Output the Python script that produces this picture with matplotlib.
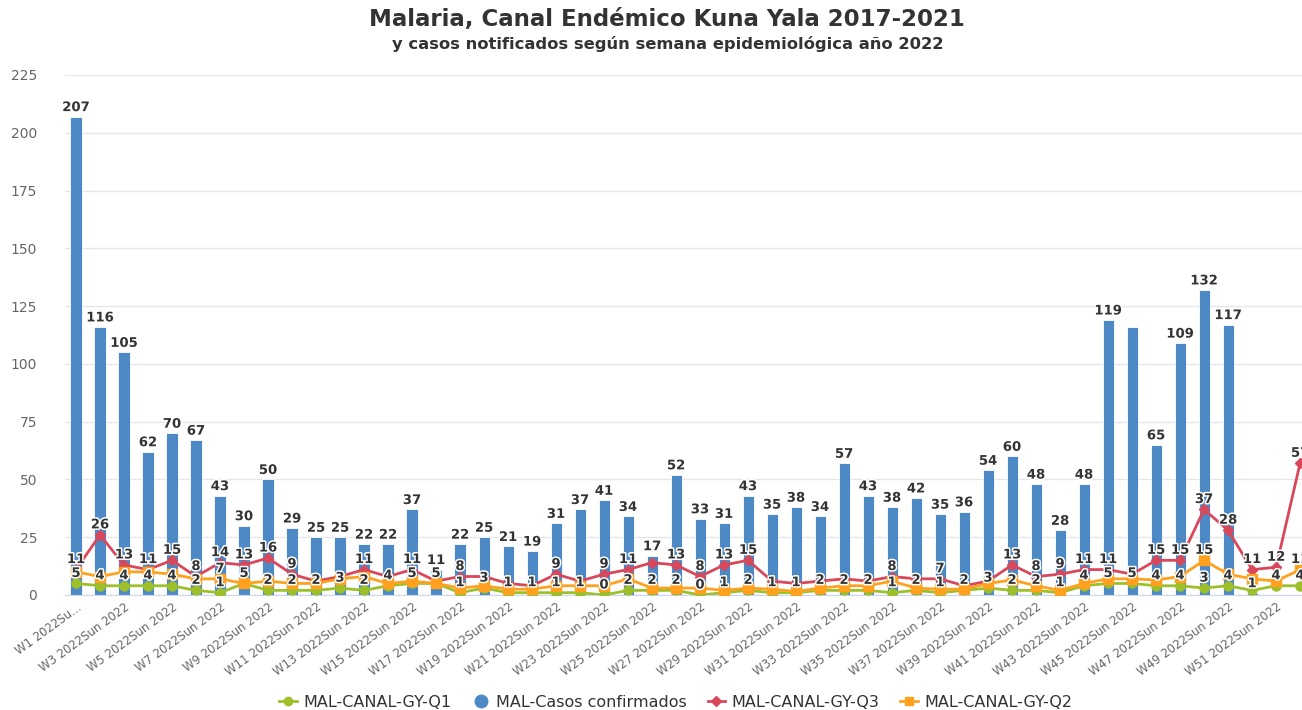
import numpy as np
import matplotlib
matplotlib.use('Agg')
import matplotlib.pyplot as plt
from matplotlib.lines import Line2D
import matplotlib.patheffects as pe

# semanas epidemiologicas 2022
semanas = ['W%d 2022Sun 2022' % n for n in range(1, 53)]

# casos confirmados (barras), sin dato en W51 y W52
casos = [207, 116, 105, 62, 70, 67, 43, 30, 50, 29,
         25, 25, 22, 22, 37, 11, 22, 25, 21, 19,
         31, 37, 41, 34, 17, 52, 33, 31, 43, 35,
         38, 34, 57, 43, 38, 42, 35, 36, 54, 60,
         48, 28, 48, 119, 116, 65, 109, 132, 117, 1,
         np.nan, np.nan]

# canal endemico 2017-2021
q1 = [5, 4, 4, 4, 4, 2, 1, 5, 2, 2,
      2, 3, 2, 4, 5, 5, 1, 3, 1, 1,
      1, 1, 0, 2, 2, 2, 0, 1, 2, 1,
      1, 2, 2, 2, 1, 2, 1, 2, 3, 2,
      2, 1, 4, 5, 5, 4, 4, 3, 4, 2,
      4, 4]
q2 = [10, 8, 10, 10, 9, 7, 7, 5, 6, 5,
      5, 7, 8, 5, 6, 5, 3, 4, 2.5, 2.5,
      4, 4, 4, 7, 3, 3, 3, 2, 3, 2.5,
      1.5, 3, 4, 4, 6, 3, 2.5, 2.5, 5, 6.5,
      4, 2, 5, 7, 7, 6.5, 8, 15, 9, 7,
      6, 11]
q3 = [11, 26, 13, 11, 15, 8, 14, 13, 16, 9,
      6, 8, 11, 8, 11, 6, 8, 8, 5, 4,
      9, 6, 9, 11, 14, 13, 8, 13, 15, 6,
      5, 6, 7, 6, 8, 7, 7, 4, 6, 13,
      8, 9, 11, 11, 9, 15, 15, 37, 28, 11,
      12, 57]

AZUL = '#4d8ac5'
ROJO = '#d9475a'
NARANJA = '#ffa11f'
VERDE = '#9dc02a'
TEXTO = '#333333'
GRIS = '#666666'


def etiqueta(ax, x, y, dy):
    t = ax.annotate('%d' % round(y), (x, y), xytext=(0, dy), textcoords='offset pixels',
                    ha='center', va='center', fontsize=9.5, fontweight='bold',
                    color=TEXTO, annotation_clip=False, zorder=10)
    t.set_path_effects([pe.withStroke(linewidth=2.2, foreground='white')])
    return t


def ocultar_solapados(fig, etiquetas, alto=12):
    # como highcharts: la etiqueta de menor rango se oculta
    fig.canvas.draw()
    r = fig.canvas.get_renderer()
    visibles = []
    for t in etiquetas:
        bb = t.get_window_extent(r)
        cx, cy, w = (bb.x0 + bb.x1) / 2, (bb.y0 + bb.y1) / 2, bb.width
        choca = False
        for x2, y2, w2 in visibles:
            if abs(cx - x2) < (w + w2) / 2 and abs(cy - y2) < alto:
                choca = True
                break
        if choca:
            t.set_visible(False)
        else:
            visibles.append((cx, cy, w))


fig = plt.figure(figsize=(13.02, 7.10), dpi=100)
ax = fig.add_axes([65 / 1302, 115 / 710, 1237 / 1302, 520 / 710])

x = np.arange(len(semanas))
ax.bar(x, casos, width=0.46, color=AZUL, edgecolor='white', linewidth=0.6, zorder=2)
ax.plot(x, q1, color=VERDE, lw=2, marker='o', ms=6.5, zorder=3)
ax.plot(x, q3, color=ROJO, lw=2, marker='D', ms=4.8, zorder=4)
ax.plot(x, q2, color=NARANJA, lw=2, marker='s', ms=6.5, zorder=5)

ax.set_xlim(-0.458, 51.08)
ax.set_ylim(0, 225)
ax.set_yticks(np.arange(0, 226, 25))
ax.grid(axis='y', color='#e6e6e6', lw=1)
ax.set_axisbelow(True)
for s in ['top', 'right', 'left']:
    ax.spines[s].set_visible(False)
ax.spines['bottom'].set_color('#ccd6eb')
ax.tick_params(axis='y', length=0, pad=20, labelsize=10, labelcolor=GRIS)

ticks = x[::2]
nombres = [semanas[i] for i in ticks]
nombres[0] = 'W1 2022Su...'
ax.set_xticks(ticks)
ax.set_xticklabels(nombres, rotation=36, ha='right', rotation_mode='anchor',
                   fontsize=8.4, color=GRIS)
ax.tick_params(axis='x', length=0, pad=4)

# etiquetas: barras primero (por altura), luego Q1, Q3, Q2
barras = []
for i, v in enumerate(casos):
    if not np.isnan(v):
        barras.append((v, etiqueta(ax, i, v, 9)))
barras.sort(key=lambda b: -b[0])
orden = [b[1] for b in barras]
for serie in (q1, q3, q2):
    for i, v in enumerate(serie):
        orden.append(etiqueta(ax, i, v, 10))

fig.text(0.512, 0.972, 'Malaria, Canal Endémico Kuna Yala 2017-2021', ha='center', va='center',
         fontsize=16.5, fontweight='bold', color=TEXTO)
fig.text(0.513, 0.938, 'y casos notificados según semana epidemiológica año 2022', ha='center',
         va='center', fontsize=11.8, fontweight='bold', color=TEXTO)

handles = [
    Line2D([], [], color=VERDE, lw=2, marker='o', ms=6),
    Line2D([], [], color=AZUL, lw=0, marker='o', ms=9),
    Line2D([], [], color=ROJO, lw=2, marker='D', ms=5),
    Line2D([], [], color=NARANJA, lw=2, marker='s', ms=6),
]
labels = ['MAL-CANAL-GY-Q1', 'MAL-Casos confirmados', 'MAL-CANAL-GY-Q3', 'MAL-CANAL-GY-Q2']
leg = fig.legend(handles, labels, loc='center', bbox_to_anchor=(0.519, 0.011), ncol=4,
                 frameon=False, fontsize=11.5, handlelength=1.1, handletextpad=0.4,
                 columnspacing=1.3)
for t in leg.get_texts():
    t.set_color(TEXTO)

ocultar_solapados(fig, orden)

fig.savefig('out.png', dpi=100)
